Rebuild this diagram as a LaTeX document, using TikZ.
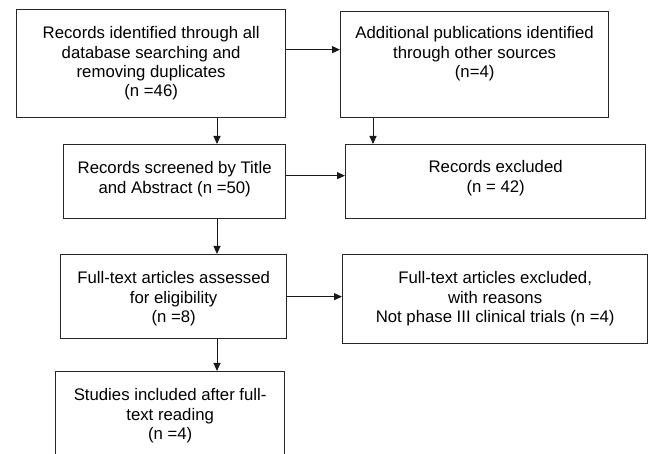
\documentclass[tikz,border=0pt]{standalone}
\usepackage{fontspec}
\setmainfont{Liberation Sans}
\usetikzlibrary{positioning, arrows.meta}

\tikzset{
  box/.style={draw=black!85, line width=1.3pt, anchor=north west},
  txt/.style={align=center, inner sep=0pt, font=\fontsize{16.75}{19.3}\selectfont},
  arr/.style={-{Triangle[length=8pt, width=7pt]}, line width=1pt, draw=black!90},
}

\begin{document}
\begin{tikzpicture}[x=1pt, y=-1pt]
\path[use as bounding box, clip] (0,0) rectangle (651,454);

% columns of the vertical arrows
\coordinate (spine) at (217,0);
\coordinate (side) at (373,0);

% boxes
\node[box, minimum width=269pt, minimum height=108pt] (ident) at (16,9) {};
\node[box, minimum width=268pt, minimum height=106pt] (addl) at (340,11) {};
\node[box, minimum width=222pt, minimum height=74pt] (screen) at (63,144) {};
\node[box, minimum width=300pt, minimum height=74pt] (excl) at (345,144) {};
\node[box, minimum width=226pt, minimum height=84pt] (assess) at (60,254) {};
\node[box, minimum width=305pt, minimum height=89pt] (ftexcl) at (342,254) {};
\node[box, minimum width=229pt, minimum height=88pt] (incl) at (55,371) {};

% texts
\node[txt, below=17.5pt of ident.north] (ident-t) {Records identified through all\\database searching and\\removing duplicates\\(n =46)};
\node[txt, below=15.5pt of addl.north] (addl-t) {Additional publications identified\\through other sources\\(n=4)};
\node[txt, below=17.5pt of screen.north] (screen-t) {Records screened by Title\\and Abstract (n =50)};
\node[txt, below=16.5pt of excl.north] (excl-t) {Records excluded\\(n = 42)};
\node[txt, below=17.5pt of assess.north] (assess-t) {Full-text articles assessed\\for eligibility\\(n =8)};
\node[txt, below=17.5pt of ftexcl.north] (ftexcl-t) {Full-text articles excluded,\\with reasons\\Not phase III clinical trials (n =4)};
\node[txt, below=17.5pt of incl.north] (incl-t) {Studies included after full-\\text reading\\(n =4)};

% arrows
\draw[arr] ([yshift=14pt]ident.east) -- ([yshift=14pt]ident.east -| addl.west);
\draw[arr] (ident.south -| spine) -- (screen.north -| spine);
\draw[arr] (addl.south -| side) -- (excl.north -| side);
\draw[arr] ([yshift=6pt]screen.east) -- ([yshift=6pt]screen.east -| excl.west);
\draw[arr] (screen.south -| spine) -- (assess.north -| spine);
\draw[arr] (assess.east) -- (assess.east -| ftexcl.west);
\draw[arr] (assess.south -| spine) -- (incl.north -| spine);

\end{tikzpicture}
\end{document}
